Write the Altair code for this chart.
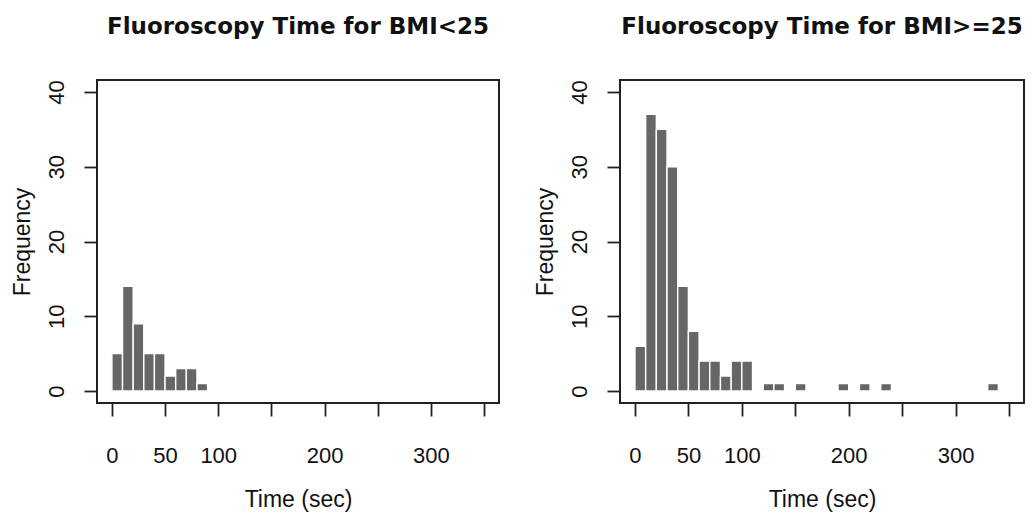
import altair as alt
import pandas as pd

# Histogram bins (bin start, width 10 sec) and counts
left_bins = [0, 10, 20, 30, 40, 50, 60, 70, 80]
left_counts = [5, 14, 9, 5, 5, 2, 3, 3, 1]

right_bins = [0, 10, 20, 30, 40, 50, 60, 70, 80, 90, 100, 120, 130, 150, 190, 210, 230, 330]
right_counts = [6, 37, 35, 30, 14, 8, 4, 4, 2, 4, 4, 1, 1, 1, 1, 1, 1, 1]

bin_width = 10
x_ticks = [0, 50, 100, 150, 200, 250, 300, 350]
y_ticks = [0, 10, 20, 30, 40]
titles = ["Fluoroscopy Time for BMI<25", "Fluoroscopy Time for BMI>=25"]


def make_df(bins, counts):
    return pd.DataFrame({
        "start": bins,
        "end": [b + bin_width for b in bins],
        "count": counts,
    })


LABEL_FONT = "Liberation Sans"


def panel(df, title, w):
    x_axis = alt.Axis(
        values=x_ticks,
        labelExpr="(datum.value == 150 || datum.value == 250 || datum.value == 350) ? '' : datum.label",
        labelOverlap=False,
        labelFlush=False,
        tickSize=13,
        labelPadding=46,
        labelBaseline="alphabetic",
        title="Time (sec)",
        titleX=w / 2,
        titleY=103,
        titleAlign="center",
        titleBaseline="alphabetic",
        domain=False,
        grid=False,
    )
    y_axis = alt.Axis(
        values=y_ticks,
        tickSize=13,
        labelPadding=21,
        labelAngle=270,
        labelAlign="center",
        labelBaseline="alphabetic",
        labelOverlap=False,
        labelFlush=False,
        title="Frequency",
        titleX=-68,
        titleY=161.5,
        titleAngle=270,
        titleAlign="center",
        titleBaseline="alphabetic",
        domain=False,
        grid=False,
    )
    return (
        alt.Chart(df)
        .mark_rect(color="#666666", stroke="#ffffff", strokeWidth=1.4)
        .encode(
            x=alt.X("start:Q", scale=alt.Scale(domain=[-14, 364], nice=False, zero=False), axis=x_axis),
            x2="end:Q",
            y=alt.Y("count:Q", scale=alt.Scale(domain=[-1.6, 41.6], nice=False, zero=False), axis=y_axis),
            y2=alt.datum(0),
        )
        .properties(
            width=w,
            height=323,
            title=alt.TitleParams(
                text=title,
                anchor="middle",
                frame="group",
                baseline="alphabetic",
                offset=23,
                font="DejaVu Sans",
                fontSize=23,
                fontWeight="bold",
                color="#111111",
            ),
        )
    )


left = panel(make_df(left_bins, left_counts), titles[0], 402)
right = panel(make_df(right_bins, right_counts), titles[1], 404)

chart = (
    alt.hconcat(left, right, spacing=33)
    .properties(padding={"left": 2, "top": 6, "right": 0, "bottom": 0}, background="white")
    .configure_view(stroke="#222222", strokeWidth=2)
    .configure_axis(
        labelFont=LABEL_FONT,
        labelFontSize=22,
        labelColor="#111111",
        titleFont=LABEL_FONT,
        titleFontSize=23,
        titleFontWeight="normal",
        titleColor="#111111",
        tickColor="#222222",
        tickWidth=1.8,
    )
)

chart.save("out.html", embed_options={"renderer": "svg", "actions": False})
